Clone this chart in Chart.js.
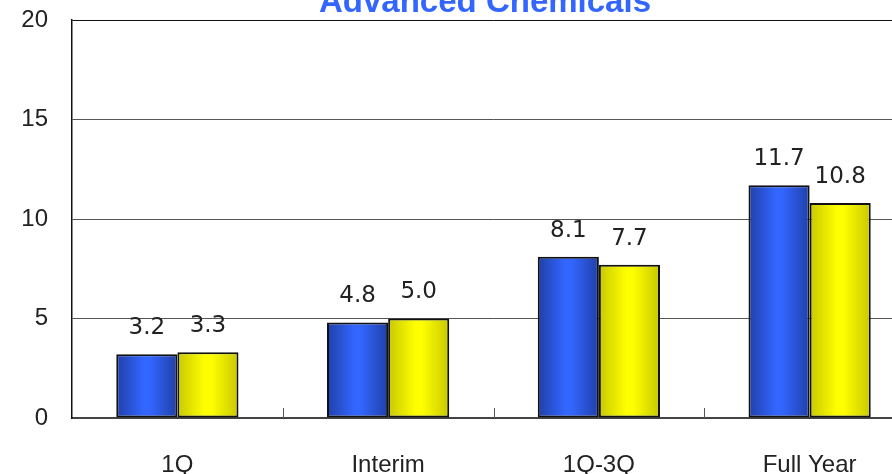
<!DOCTYPE html>
<html>
<head>
<meta charset="utf-8">
<script src="https://cdn.jsdelivr.net/npm/chart.js@4"></script>
<style>
  html, body { margin: 0; padding: 0; overflow: hidden; background: #fff; }
  #wrap { width: 892px; height: 474px; overflow: hidden; }
</style>
</head>
<body>
<div id="wrap"><canvas id="chart" width="960" height="490"></canvas></div>
<script>
const categories = ["1Q", "Interim", "1Q-3Q", "Full Year"];
const seriesA = [3.2, 4.8, 8.1, 11.7];
const seriesB = [3.3, 5.0, 7.7, 10.8];
const yTicks = [0, 5, 10, 15, 20];
const chartTitle = "Advanced Chemicals";

// horizontal gradient per bar: dark edges, bright middle
function barGradient(ctx, x0, x1, edge, mid) {
  const g = ctx.createLinearGradient(x0, 0, x1, 0);
  g.addColorStop(0, edge);
  g.addColorStop(0.45, mid);
  g.addColorStop(0.55, mid);
  g.addColorStop(1, edge);
  return g;
}

const shading = {
  id: "shading",
  beforeDatasetsDraw(chart) {
    const ctx = chart.ctx;
    chart.data.datasets.forEach((ds, i) => {
      chart.getDatasetMeta(i).data.forEach(bar => {
        const x0 = bar.x - bar.width / 2, x1 = bar.x + bar.width / 2;
        // options objects are shared between bars, so give each its own copy
        bar.options = Object.assign({}, bar.options, {
          backgroundColor: barGradient(ctx, x0, x1, ds.edgeColor, ds.midColor)
        });
      });
    });
  }
};

const extras = {
  id: "extras",
  afterDraw(chart) {
    const ctx = chart.ctx;
    const area = chart.chartArea;
    const x = chart.scales.x;
    ctx.save();
    // small ticks between categories
    ctx.strokeStyle = "#555";
    ctx.lineWidth = 1;
    for (let i = 0; i < categories.length - 1; i++) {
      const px = Math.round((x.getPixelForTick(i) + x.getPixelForTick(i + 1)) / 2) + 0.5;
      ctx.beginPath();
      ctx.moveTo(px, area.bottom - 10);
      ctx.lineTo(px, area.bottom);
      ctx.stroke();
    }
    // value labels
    ctx.fillStyle = "#222";
    ctx.font = "23px 'DejaVu Sans', sans-serif";
    ctx.textAlign = "center";
    ctx.textBaseline = "middle";
    chart.data.datasets.forEach((ds, i) => {
      chart.getDatasetMeta(i).data.forEach((bar, j) => {
        ctx.fillText(ds.data[j].toFixed(1), bar.x, bar.y - 26);
      });
    });
    // title
    ctx.fillStyle = "#3366ff";
    ctx.font = "bold 33px 'Liberation Sans', sans-serif";
    ctx.textBaseline = "alphabetic";
    ctx.fillText(chartTitle, 485, 12);
    ctx.restore();
  }
};

new Chart(document.getElementById("chart"), {
  type: "bar",
  data: {
    labels: categories,
    datasets: [
      { label: "A", data: seriesA, edgeColor: "#2040a8", midColor: "#3366ff",
        borderColor: "#111", borderWidth: 2, borderSkipped: false,
        categoryPercentage: 0.58, barPercentage: 1.0 },
      { label: "B", data: seriesB, edgeColor: "#c8c800", midColor: "#ffff00",
        borderColor: "#111", borderWidth: 2, borderSkipped: false,
        categoryPercentage: 0.58, barPercentage: 1.0 }
    ]
  },
  options: {
    responsive: false,
    animation: false,
    layout: { padding: { top: 20, right: 45, left: 0, bottom: 0 } },
    plugins: { legend: { display: false }, tooltip: { enabled: false }, title: { display: false } },
    scales: {
      x: {
        grid: { display: false },
        border: { color: "#444", width: 2 },
        ticks: { color: "#222", font: { family: "'Liberation Sans', sans-serif", size: 24 }, padding: 25 },
        afterFit(s) { s.height = 490 - 418; s.paddingLeft = 0; s.paddingRight = 0; }
      },
      y: {
        min: 0, max: 20,
        afterBuildTicks(s) { s.ticks = yTicks.map(v => ({ value: v })); },
        grid: { color: ctx => ctx.tick.value === 20 ? "#111" : "#555", lineWidth: 1, drawTicks: false },
        border: { color: "#111", width: 1.5 },
        ticks: { color: "#222", font: { family: "'Liberation Sans', sans-serif", size: 24 }, padding: 24 },
        afterFit(s) { s.width = 72; s.paddingTop = 0; s.paddingBottom = 0; }
      }
    }
  },
  plugins: [shading, extras]
});
</script>
</body>
</html>
